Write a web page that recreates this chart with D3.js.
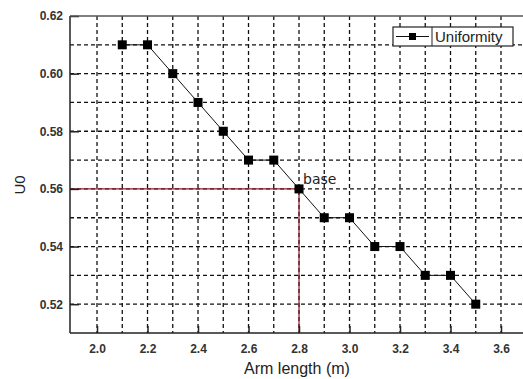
<!DOCTYPE html>
<html>
<head>
<meta charset="utf-8">
<script src="https://cdn.jsdelivr.net/npm/d3@7"></script>
<style>
  body { margin: 0; background: #fff; }
  text { font-family: "Liberation Sans", Arial, sans-serif; }
</style>
</head>
<body>
<div id="chart"></div>
<script>
const armLength = [2.1, 2.2, 2.3, 2.4, 2.5, 2.6, 2.7, 2.8, 2.9, 3.0, 3.1, 3.2, 3.3, 3.4, 3.5];
const uniformity = [0.61, 0.61, 0.60, 0.59, 0.58, 0.57, 0.57, 0.56, 0.55, 0.55, 0.54, 0.54, 0.53, 0.53, 0.52];
const xTicks = [2.0, 2.2, 2.4, 2.6, 2.8, 3.0, 3.2, 3.4, 3.6];
const yTicks = [0.52, 0.54, 0.56, 0.58, 0.60, 0.62];
const xGrid = [2.0, 2.1, 2.2, 2.3, 2.4, 2.5, 2.6, 2.7, 2.8, 2.9, 3.0, 3.1, 3.2, 3.3, 3.4, 3.5, 3.6, 3.7];
const yGrid = [0.52, 0.53, 0.54, 0.55, 0.56, 0.57, 0.58, 0.59, 0.60, 0.61];
const baseX = 2.8, baseY = 0.56;

const width = 523, height = 379;
const plotLeft = 70, plotTop = 16, plotBottom = 333;

const svg = d3.select('#chart').append('svg')
  .attr('width', width)
  .attr('height', height);

const x = d3.scaleLinear().domain([1.893, 3.6]).range([plotLeft, 501]);
const y = d3.scaleLinear().domain([0.51, 0.62]).range([plotBottom, plotTop]);

// dashed grid
svg.append('g').selectAll('line')
  .data(xGrid)
  .enter()
  .append('line')
  .attr('x1', d => x(d)).attr('x2', d => x(d))
  .attr('y1', plotTop).attr('y2', plotBottom)
  .attr('stroke', '#111').attr('stroke-width', 1.3)
  .attr('stroke-dasharray', '4,3');

svg.append('g').selectAll('line')
  .data(yGrid)
  .enter()
  .append('line')
  .attr('x1', plotLeft).attr('x2', width)
  .attr('y1', d => y(d)).attr('y2', d => y(d))
  .attr('stroke', '#111').attr('stroke-width', 1.3)
  .attr('stroke-dasharray', '4,3');

// reference lines to the base point
svg.append('line')
  .attr('x1', plotLeft).attr('x2', x(baseX))
  .attr('y1', y(baseY)).attr('y2', y(baseY))
  .attr('stroke', '#8b1c2c').attr('stroke-width', 1.2);
svg.append('line')
  .attr('x1', x(baseX)).attr('x2', x(baseX))
  .attr('y1', y(baseY)).attr('y2', plotBottom)
  .attr('stroke', '#8b1c2c').attr('stroke-width', 1.2);

// axes
const xAxis = d3.axisBottom(x).tickValues(xTicks).tickSize(-7).tickPadding(10)
  .tickFormat(d3.format('.1f'));
const gx = svg.append('g').attr('transform', `translate(0,${plotBottom})`).call(xAxis);
gx.select('.domain').attr('d', `M${plotLeft},0H${width}`).attr('stroke', '#222').attr('stroke-width', 1.5);

const yAxis = d3.axisLeft(y).tickValues(yTicks).tickSize(-9).tickPadding(7)
  .tickFormat(d3.format('.2f'));
const gy = svg.append('g').attr('transform', `translate(${plotLeft},0)`).call(yAxis);
gy.select('.domain').attr('d', `M0,${plotTop}V${plotBottom}`).attr('stroke', '#222').attr('stroke-width', 1.5);

[gx, gy].forEach(g => {
  g.selectAll('.tick line').attr('stroke', '#222').attr('stroke-width', 1.5);
  g.selectAll('.tick text')
    .attr('fill', '#333')
    .style('font-family', '"Liberation Sans", Arial, sans-serif')
    .style('font-size', '12px')
    .style('font-weight', 'bold');
});
gx.selectAll('.tick text').attr('dy', '0.85em');

// top frame line
svg.append('line')
  .attr('x1', plotLeft).attr('x2', width)
  .attr('y1', plotTop).attr('y2', plotTop)
  .attr('stroke', '#555').attr('stroke-width', 1.5);

// series
const pts = armLength.map((a, i) => [a, uniformity[i]]);
svg.append('path')
  .datum(pts)
  .attr('fill', 'none')
  .attr('stroke', '#111')
  .attr('stroke-width', 1)
  .attr('d', d3.line().x(d => x(d[0])).y(d => y(d[1])));

svg.append('g').selectAll('rect')
  .data(pts)
  .enter()
  .append('rect')
  .attr('x', d => x(d[0]) - 4.5)
  .attr('y', d => y(d[1]) - 4.5)
  .attr('width', 9).attr('height', 9)
  .attr('fill', '#000');

svg.append('text')
  .attr('x', x(baseX) + 4).attr('y', y(baseY) - 5)
  .style('font-family', '"DejaVu Sans", sans-serif')
  .style('font-size', '14px')
  .attr('fill', '#222')
  .text('base');

// axis titles
svg.append('text')
  .attr('x', 297).attr('y', 374)
  .attr('text-anchor', 'middle')
  .style('font-size', '16px')
  .attr('fill', '#222')
  .text('Arm length (m)');

svg.append('text')
  .attr('transform', 'translate(25,185) rotate(-90)')
  .attr('text-anchor', 'middle')
  .style('font-size', '15px')
  .attr('fill', '#222')
  .text('U0');

// legend
const lg = svg.append('g').attr('transform', 'translate(393,27)');
lg.append('rect').attr('width', 120).attr('height', 19)
  .attr('fill', '#fff').attr('stroke', '#222').attr('stroke-width', 1.2);
lg.append('line').attr('x1', 39).attr('x2', 39).attr('y1', 0).attr('y2', 19)
  .attr('stroke', '#222').attr('stroke-width', 1);
lg.append('line').attr('x1', 3).attr('x2', 36).attr('y1', 9.5).attr('y2', 9.5)
  .attr('stroke', '#111').attr('stroke-width', 1);
lg.append('rect').attr('x', 16).attr('y', 6).attr('width', 7).attr('height', 7).attr('fill', '#000');
lg.append('text').attr('x', 42).attr('y', 15)
  .style('font-size', '15px').attr('fill', '#222')
  .text('Uniformity');
</script>
</body>
</html>
